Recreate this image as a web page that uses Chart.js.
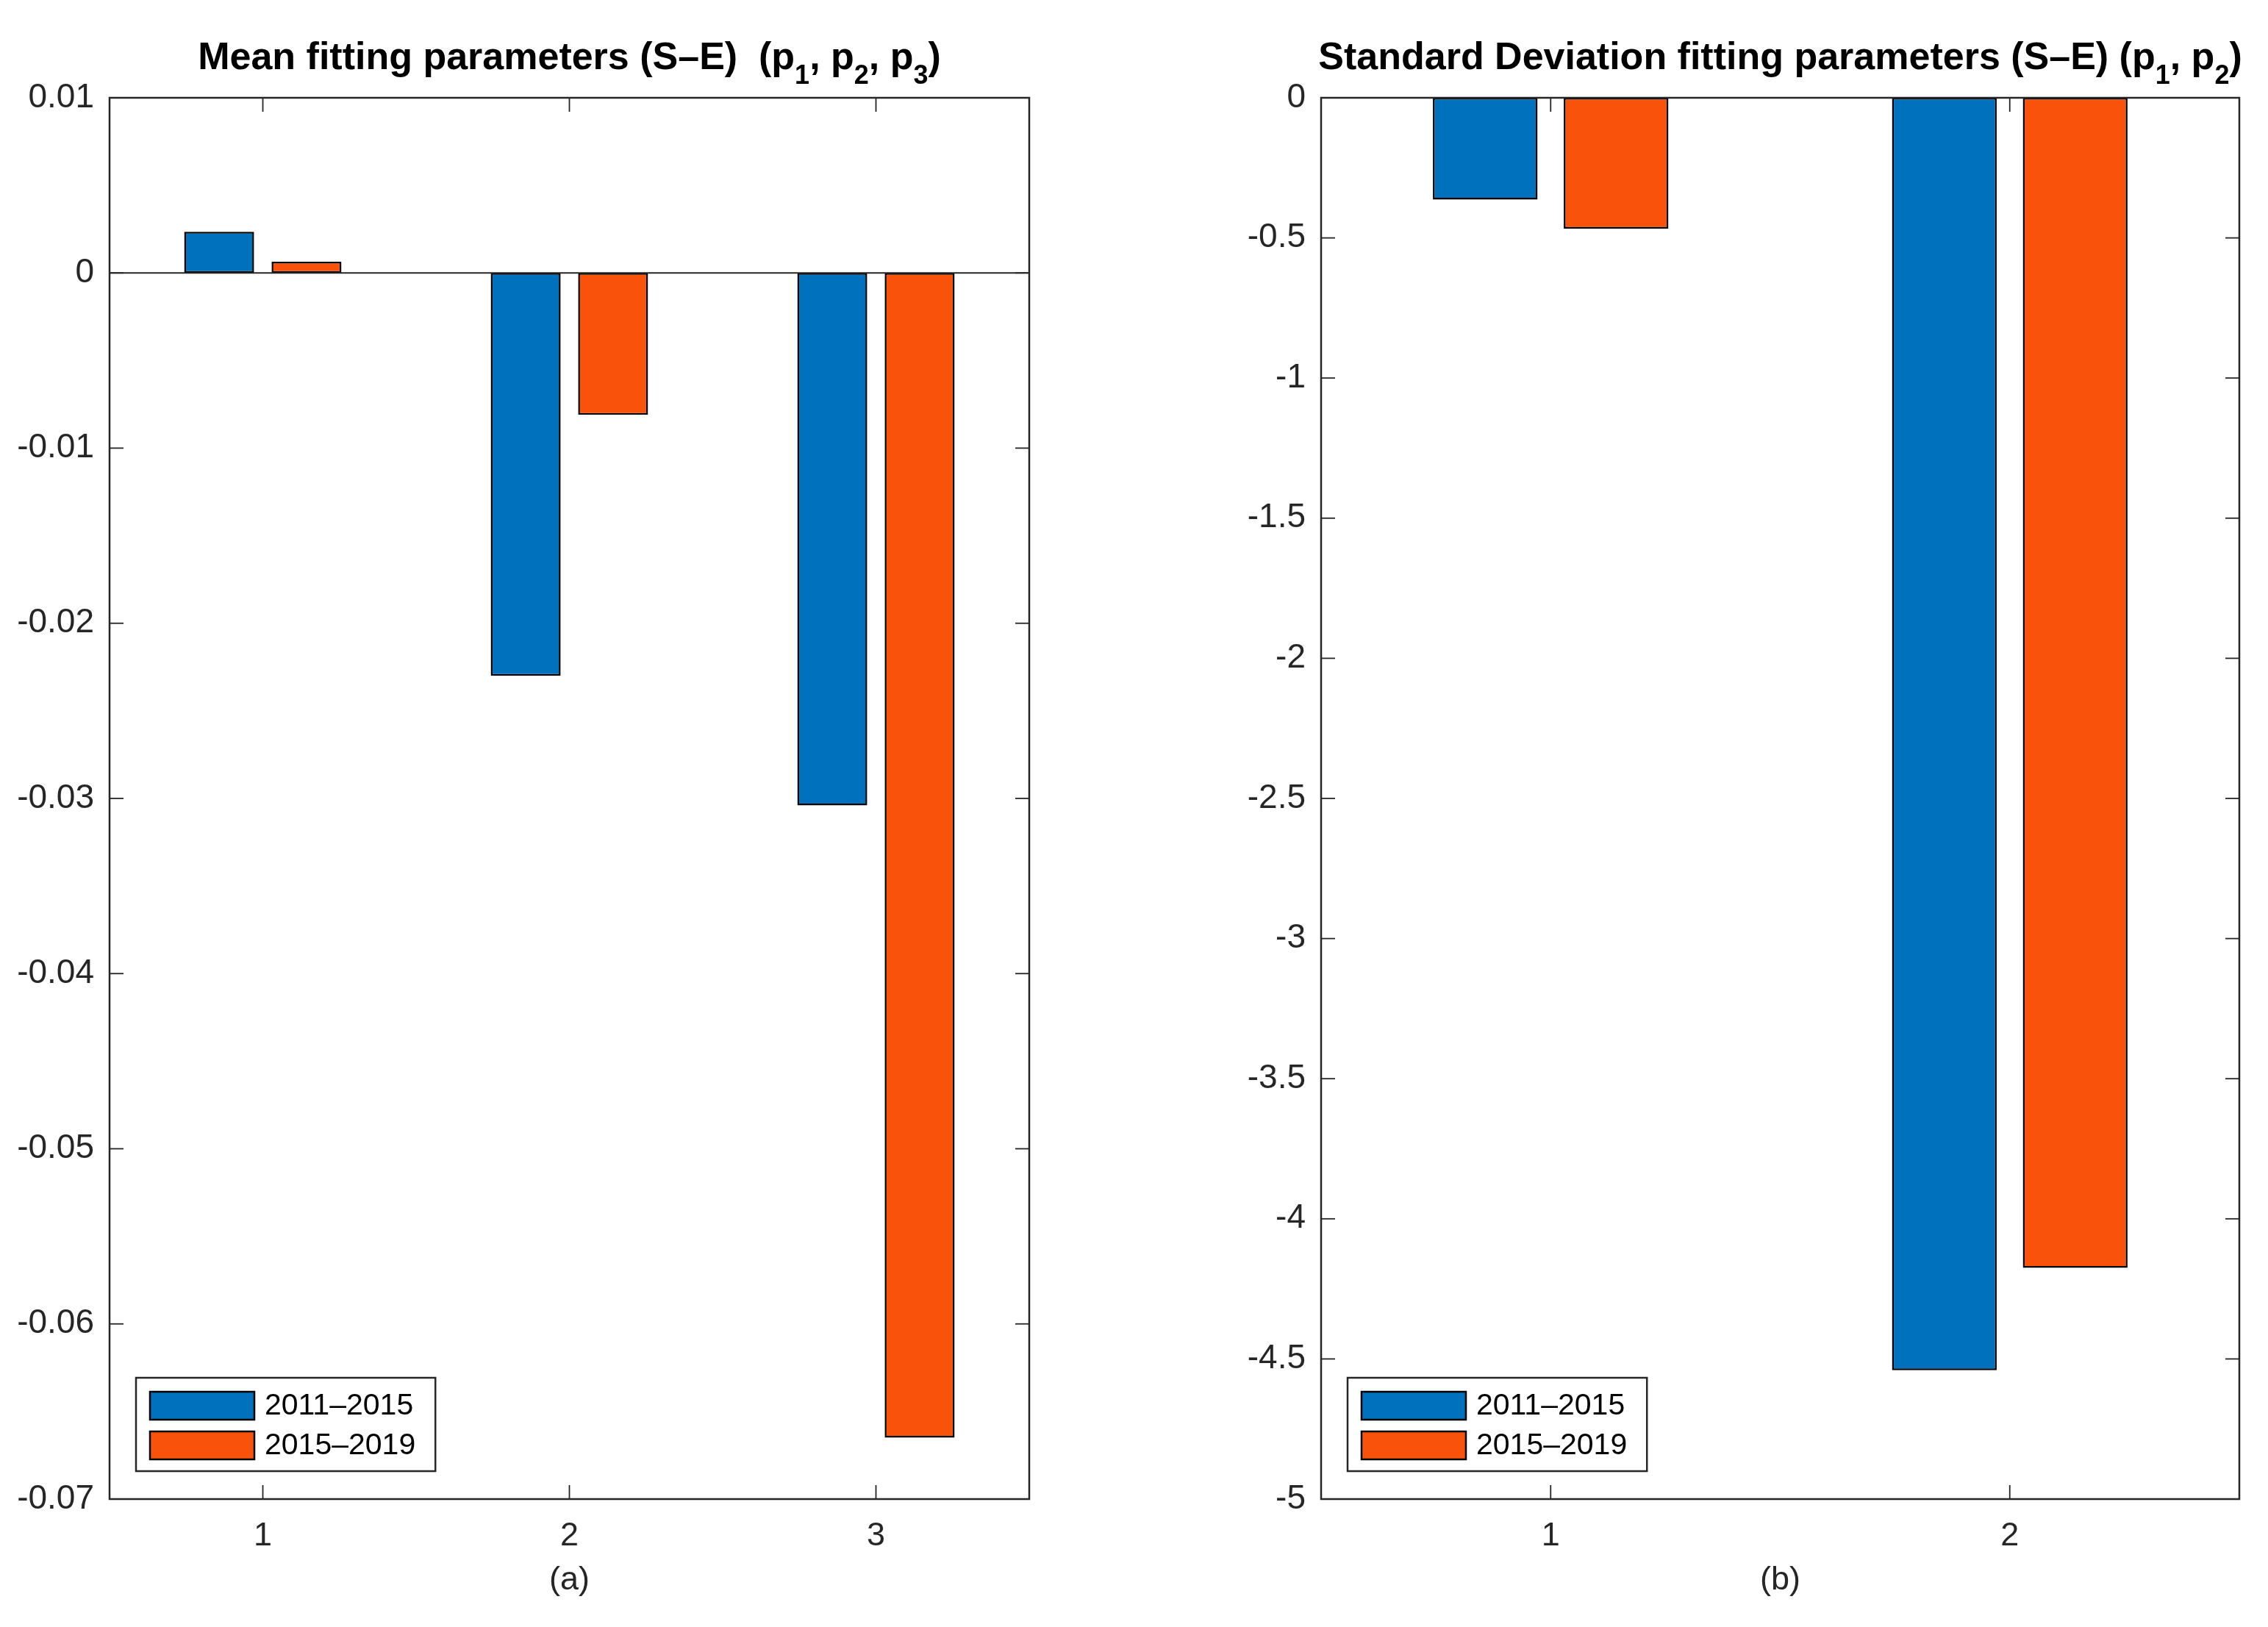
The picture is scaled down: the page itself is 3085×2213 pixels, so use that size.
<!DOCTYPE html>
<html>
<head>
<meta charset="utf-8">
<script src="https://cdn.jsdelivr.net/npm/chart.js@4.4.1/dist/chart.umd.min.js"></script>
<style>
  body { margin: 0; background: #fff; width: 3085px; height: 2213px; overflow: hidden; position: relative; }
  canvas { position: absolute; top: 0; }
</style>
</head>
<body>
<canvas id="chartA" width="1480" height="2213" style="left:0px"></canvas>
<canvas id="chartB" width="1540" height="2213" style="left:1545px"></canvas>
<script>
// data
const seriesNames = ["2011–2015", "2015–2019"];
const seriesColors = ["#0072BD", "#F9530B"];

const categoriesA = ["1", "2", "3"];
const meanEarly = [0.00235, -0.0230, -0.0304];
const meanLate = [0.00064, -0.0081, -0.0665];
const yTicksA = [0.01, 0, -0.01, -0.02, -0.03, -0.04, -0.05, -0.06, -0.07];

const categoriesB = ["1", "2"];
const stdEarly = [-0.363, -4.54];
const stdLate = [-0.467, -4.175];
const yTicksB = [0, -0.5, -1, -1.5, -2, -2.5, -3, -3.5, -4, -4.5, -5];

const FONT = '"Liberation Sans", Arial, Helvetica, sans-serif';
Chart.defaults.font.family = FONT;
Chart.defaults.color = "#262626";

// frame, inward ticks, baseline, legend and title in the MATLAB look
const matlabAxes = {
    id: "matlabAxes",
    afterDatasetsDraw(chart) {
        const ctx = chart.ctx;
        const { left, right, top, bottom } = chart.chartArea;
        const x = chart.scales.x, y = chart.scales.y;
        const line = (x1, y1, x2, y2) => { ctx.beginPath(); ctx.moveTo(x1, y1); ctx.lineTo(x2, y2); ctx.stroke(); };
        ctx.save();
        ctx.strokeStyle = "#262626";
        ctx.lineWidth = 1.8;
        y.ticks.forEach(t => {
            const py = y.getPixelForValue(t.value);
            line(left, py, left + 19, py);
            line(right, py, right - 19, py);
        });
        x.ticks.forEach((t, i) => {
            const px = x.getPixelForTick(i);
            line(px, bottom, px, bottom - 19);
            line(px, top, px, top + 19);
        });
        ctx.lineWidth = 2;
        const p0 = y.getPixelForValue(0);
        line(left, p0, right, p0);
        ctx.lineWidth = 2.5;
        ctx.strokeRect(left, top, right - left, bottom - top);
        ctx.restore();
    },
    afterDraw(chart, args, opts) {
        const ctx = chart.ctx;
        const { left, right, top, bottom } = chart.chartArea;
        ctx.save();

        // legend box
        ctx.font = "41px " + FONT;
        const sets = chart.data.datasets;
        const tw = Math.max(...sets.map(d => ctx.measureText(d.label).width));
        const w = 175 + tw + 27, h = 127;
        const bx = left + 36, by = bottom - 38 - h;
        ctx.fillStyle = "#fff";
        ctx.fillRect(bx, by, w, h);
        ctx.strokeStyle = "#262626";
        ctx.lineWidth = 2.5;
        ctx.strokeRect(bx, by, w, h);
        sets.forEach((d, i) => {
            const sy = by + 19 + i * 54;
            ctx.fillStyle = d.backgroundColor;
            ctx.fillRect(bx + 19, sy, 142, 38);
            ctx.strokeStyle = "#000";
            ctx.lineWidth = 2.5;
            ctx.strokeRect(bx + 19, sy, 142, 38);
            ctx.fillStyle = "#000";
            ctx.textBaseline = "middle";
            ctx.textAlign = "left";
            ctx.fillText(d.label, bx + 175, sy + 20);
        });

        // title with subscripts
        const main = "bold 52px " + FONT, sub = "bold 36px " + FONT;
        let total = 0;
        opts.title.forEach(s => { ctx.font = s.sub ? sub : main; total += ctx.measureText(s.t).width; });
        let tx = (left + right) / 2 - total / 2;
        ctx.fillStyle = "#000";
        ctx.textBaseline = "alphabetic";
        opts.title.forEach(s => {
            ctx.font = s.sub ? sub : main;
            ctx.fillText(s.t, tx, s.sub ? 114 : 94);
            tx += ctx.measureText(s.t).width;
        });
        ctx.restore();
    }
};

function makeChart(id, cats, early, late, ticks, yMin, yMax, yWidth, padRight, xTitle, title) {
    return new Chart(document.getElementById(id), {
        type: "bar",
        data: {
            labels: cats,
            datasets: [
                { label: seriesNames[0], data: early, backgroundColor: seriesColors[0] },
                { label: seriesNames[1], data: late, backgroundColor: seriesColors[1] }
            ]
        },
        options: {
            responsive: false,
            animation: false,
            devicePixelRatio: 1,
            layout: { padding: { left: 0, right: padRight, top: 133, bottom: 0 } },
            datasets: {
                bar: {
                    borderColor: "#000",
                    borderWidth: 2.5,
                    borderSkipped: false,
                    barPercentage: 0.8,
                    categoryPercentage: 0.57
                }
            },
            scales: {
                x: {
                    type: "category",
                    offset: true,
                    grid: { display: false },
                    border: { display: false },
                    ticks: { font: { size: 45 }, padding: 16, maxRotation: 0 },
                    title: { display: true, text: xTitle, font: { size: 45 }, padding: { top: 0, bottom: 36 }, color: "#262626" },
                    afterFit: s => { s.height = 174; }
                },
                y: {
                    type: "linear",
                    min: yMin,
                    max: yMax,
                    grid: { display: false },
                    border: { display: false },
                    afterBuildTicks: s => { s.ticks = ticks.map(v => ({ value: v })); },
                    ticks: { font: { size: 46 }, padding: 13, callback: v => String(v) },
                    afterFit: s => { s.width = yWidth; }
                }
            },
            plugins: {
                legend: { display: false },
                tooltip: { enabled: false },
                matlabAxes: { title: title }
            }
        },
        plugins: [matlabAxes]
    });
}

makeChart("chartA", categoriesA, meanEarly, meanLate, yTicksA, -0.07, 0.01, 149, 80, "(a)", [
    { t: "Mean fitting parameters (S–E)  (p" }, { t: "1", sub: true },
    { t: ", p" }, { t: "2", sub: true }, { t: ", p" }, { t: "3", sub: true }, { t: ")" }
]);
makeChart("chartB", categoriesB, stdEarly, stdLate, yTicksB, -5, 0, 252, 39, "(b)", [
    { t: "Standard Deviation fitting parameters (S–E) (p" }, { t: "1", sub: true },
    { t: ", p" }, { t: "2", sub: true }, { t: ")" }
]);
</script>
</body>
</html>
